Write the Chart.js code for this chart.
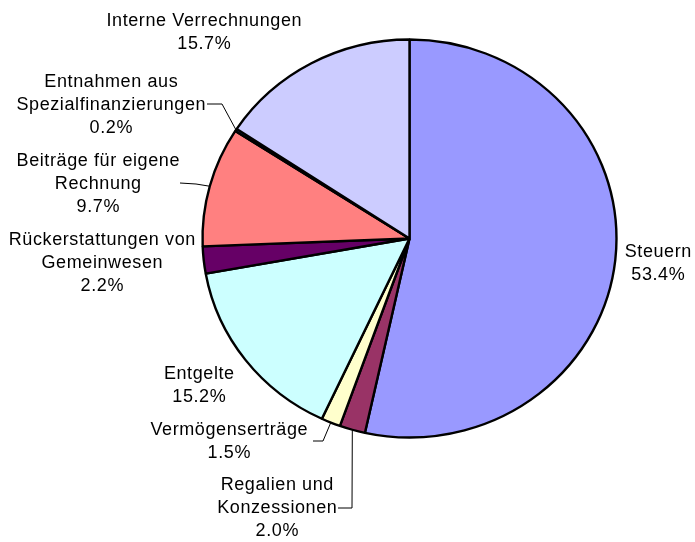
<!DOCTYPE html>
<html lang="de">
  <head>
    <meta charset="utf-8" />
    <title>Einnahmen</title>
    <style>
      * {
        margin: 0;
        padding: 0;
      }
      body {
        background: white;
      }
      .chartBox {
        width: 695px;
        height: 542px;
      }
    </style>
  </head>
  <body>
    <div class="chartBox">
      <canvas id="myChart" width="695" height="542"></canvas>
    </div>

    <script src="https://cdn.jsdelivr.net/npm/chart.js"></script>

    <script>
      const categories = [
        ["Steuern"],
        ["Regalien und", "Konzessionen"],
        ["Vermögenserträge"],
        ["Entgelte"],
        ["Rückerstattungen von", "Gemeinwesen"],
        ["Beiträge für eigene", "Rechnung"],
        ["Entnahmen aus", "Spezialfinanzierungen"],
        ["Interne Verrechnungen"],
      ];
      const values = [53.4, 2.0, 1.5, 15.2, 2.2, 9.7, 0.2, 15.7];
      const colors = [
        "#9999FF",
        "#993366",
        "#FFFFCC",
        "#CCFFFF",
        "#660066",
        "#FF8080",
        "#0066CC",
        "#CCCCFF",
      ];

      // label placement (centre x, first line y) and leader line start points
      const labelPos = [
        { x: 658, y: 252 },
        { x: 277, y: 485 },
        { x: 229, y: 430 },
        { x: 199, y: 374 },
        { x: 102, y: 240 },
        { x: 98, y: 161 },
        { x: 111, y: 82 },
        { x: 204, y: 21 },
      ];
      const leaders = [
        null,
        [[338, 508], [352, 508]],
        [[313, 441], [323, 441]],
        null,
        null,
        [[180, 183], [196, 184]],
        [[207, 104], [222, 104]],
        null,
      ];

      const LINE_H = 23;
      const SQUASH = 199 / 207;

      const ellipse = {
        id: "ellipse",
        beforeDatasetsDraw(chart) {
          const arc = chart.getDatasetMeta(0).data[0];
          const ctx = chart.ctx;
          ctx.save();
          ctx.translate(arc.x, arc.y);
          ctx.scale(1, SQUASH);
          ctx.translate(-arc.x, -arc.y);
        },
        afterDatasetsDraw(chart) {
          chart.ctx.restore();
        },
      };

      const pieLabels = {
        id: "pieLabels",
        afterDraw(chart) {
          const ctx = chart.ctx;
          const arcs = chart.getDatasetMeta(0).data;
          ctx.save();
          ctx.font = "18px 'Liberation Sans', Arial, sans-serif";
          ctx.letterSpacing = "0.6px";
          ctx.textAlign = "center";
          ctx.textBaseline = "middle";
          ctx.fillStyle = "#000";
          arcs.forEach((arc, i) => {
            const lines = categories[i].concat([values[i].toFixed(1) + "%"]);
            lines.forEach((t, j) => {
              ctx.fillText(t, labelPos[i].x + 0.3, labelPos[i].y + j * LINE_H);
            });
            if (leaders[i]) {
              const mid = (arc.startAngle + arc.endAngle) / 2;
              const ex = arc.x + Math.cos(mid) * arc.outerRadius;
              const ey = arc.y + Math.sin(mid) * arc.outerRadius * SQUASH;
              ctx.beginPath();
              ctx.lineWidth = 1;
              ctx.strokeStyle = "#000";
              ctx.moveTo(leaders[i][0][0], leaders[i][0][1]);
              leaders[i].slice(1).forEach((p) => ctx.lineTo(p[0], p[1]));
              ctx.lineTo(ex, ey);
              ctx.stroke();
            }
          });
          ctx.restore();
        },
      };

      const data = {
        labels: categories.map((c) => c.join(" ")),
        datasets: [
          {
            data: values,
            backgroundColor: colors,
            borderColor: "#000",
            borderWidth: 2.4,
          },
        ],
      };

      const config = {
        type: "pie",
        data: data,
        options: {
          responsive: false,
          animation: false,
          radius: 207,
          layout: {
            padding: { left: 190, right: 66, top: 20, bottom: 85 },
          },
          plugins: {
            legend: { display: false },
            tooltip: { enabled: false },
          },
        },
        plugins: [ellipse, pieLabels],
      };

      const myChart = new Chart(document.getElementById("myChart"), config);
    </script>
  </body>
</html>
